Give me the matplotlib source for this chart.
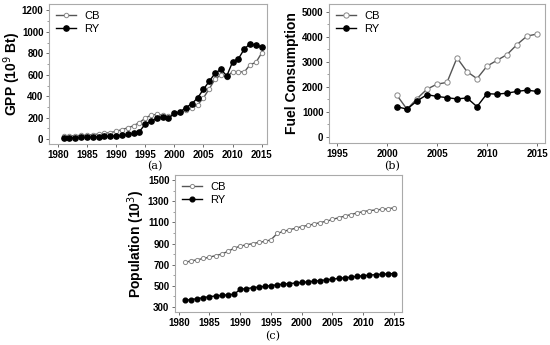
import numpy as np
import matplotlib
matplotlib.use("Agg")
import matplotlib.pyplot as plt
from matplotlib.ticker import MultipleLocator

years = np.arange(1981, 2016)
fuel_years = np.arange(2001, 2016)

gpp_cb = [25, 30, 33, 35, 38, 42, 48, 55, 62, 72, 90, 105, 125, 155, 195,
          225, 230, 225, 215, 230, 250, 268, 290, 320, 385, 470, 560, 600,
          580, 630, 630, 625, 695, 715, 805]
gpp_ry = [8, 12, 14, 16, 18, 20, 22, 25, 28, 32, 36, 45, 55, 70, 140,
          165, 195, 210, 195, 240, 255, 295, 330, 385, 465, 540, 615, 650,
          590, 720, 750, 840, 890, 875, 860]

fuel_cb = [1650, 1100, 1520, 1900, 2100, 2170, 3150, 2600, 2320, 2820,
           3050, 3280, 3680, 4020, 4100]
fuel_ry = [1200, 1100, 1430, 1680, 1610, 1560, 1510, 1550, 1200, 1720,
           1700, 1740, 1810, 1860, 1810]

pop_cb = [720, 735, 745, 758, 770, 785, 800, 825, 855, 875, 888, 898, 910,
          920, 935, 995, 1015, 1030, 1045, 1060, 1072, 1085, 1098, 1112,
          1128, 1145, 1160, 1175, 1190, 1203, 1212, 1218, 1224, 1230, 1238]
pop_ry = [360, 368, 376, 386, 396, 402, 408, 413, 418, 465, 472, 480, 487,
          493, 500, 508, 514, 520, 525, 530, 536, 542, 548, 555, 562, 568,
          575, 580, 588, 594, 600, 604, 608, 612, 615]

plt.rcParams['font.family'] = ['Liberation Sans', 'DejaVu Sans']

fig = plt.figure(figsize=(5.5, 3.45), dpi=100)
W, H = 550, 345


def box(l, t, r, b):
    return [l / W, 1 - b / H, (r - l) / W, (b - t) / H]


def style(ax, ylabel, lx):
    for s in ax.spines.values():
        s.set_color('#aaaaaa')
        s.set_linewidth(0.8)
    ax.tick_params(labelsize=7, length=2.5, width=0.6, color='#555555', pad=1.5)
    ax.tick_params(which='minor', length=1.5, width=0.5, color='#777777')
    for lab in ax.get_xticklabels() + ax.get_yticklabels():
        lab.set_fontweight('bold')
    ax.set_ylabel(ylabel, fontsize=10, fontweight='bold')
    ax.yaxis.set_label_coords(lx, 0.5)
    ax.legend(loc='upper left', frameon=False, fontsize=8, handlelength=1.8,
              borderaxespad=0.2, labelspacing=0.3)


def draw(ax, x, a, b, ms_a, ms_b):
    ax.plot(x, a, '-o', color='#555555', mfc='white', mec='#888888',
            ms=ms_a, lw=1, mew=0.7, label='CB')
    ax.plot(x, b, '-o', color='black', mfc='black', mec='black',
            ms=ms_b, lw=1, label='RY')


# (a) GPP
ax1 = fig.add_axes(box(49, 4, 267, 144))
draw(ax1, years, gpp_cb, gpp_ry, 3.2, 3.8)
ax1.set_xlim(1978.5, 2015.9)
ax1.set_ylim(-45, 1260)
ax1.set_xticks(range(1980, 2016, 5))
ax1.set_yticks(range(0, 1201, 200))
ax1.yaxis.set_minor_locator(MultipleLocator(100))
style(ax1, 'GPP (10$^9$ Bt)', -0.12)
fig.text(155 / W, 1 - 166 / H, '(a)', ha='center', va='center',
         fontsize=8, family='DejaVu Serif')

# (b) Fuel
ax2 = fig.add_axes(box(329, 4, 545, 143))
draw(ax2, fuel_years, fuel_cb, fuel_ry, 3.8, 3.8)
ax2.set_xlim(1994.2, 2015.8)
ax2.set_ylim(-250, 5300)
ax2.set_xticks(range(1995, 2016, 5))
ax2.set_yticks(range(0, 5001, 1000))
ax2.yaxis.set_minor_locator(MultipleLocator(500))
style(ax2, 'Fuel Consumption', -0.14)
fig.text(392 / W, 1 - 166 / H, '(b)', ha='center', va='center',
         fontsize=8, family='DejaVu Serif')

# (c) Population
ax3 = fig.add_axes(box(175, 175, 402, 312))
draw(ax3, years, pop_cb, pop_ry, 3.0, 3.4)
ax3.set_xlim(1979.4, 2016.3)
ax3.set_ylim(250, 1550)
ax3.set_xticks(range(1980, 2016, 5))
ax3.set_yticks(range(300, 1501, 200))
ax3.yaxis.set_minor_locator(MultipleLocator(100))
style(ax3, 'Population (10$^3$)', -0.122)
fig.text(273 / W, 1 - 336 / H, '(c)', ha='center', va='center',
         fontsize=8, family='DejaVu Serif')

fig.savefig('out.png', dpi=100)
